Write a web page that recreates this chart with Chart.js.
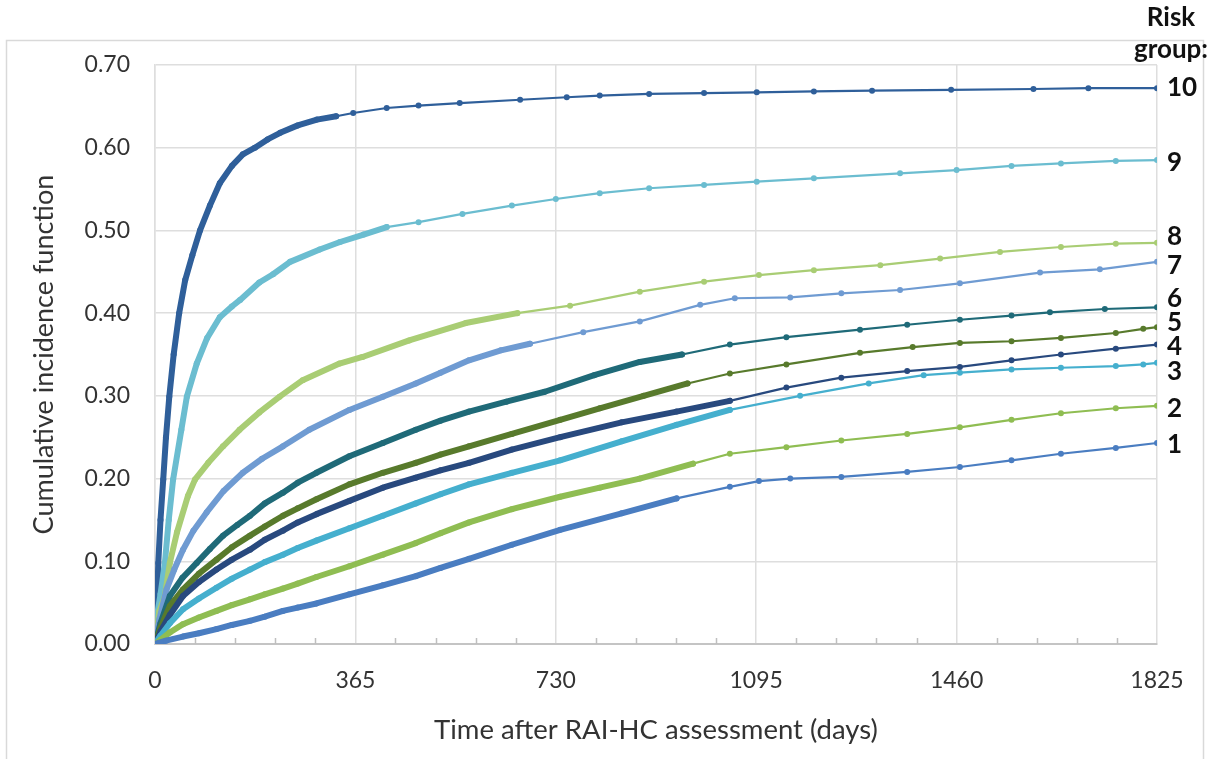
<!DOCTYPE html>
<html>
<head>
<meta charset="utf-8">
<script src="https://cdn.jsdelivr.net/npm/chart.js@4/dist/chart.umd.min.js"></script>
<style>
html,body{margin:0;padding:0;background:#fff;}
canvas{display:block;}
</style>
</head>
<body>
<canvas id="c" width="1229" height="759" style="width:1229px;height:759px"></canvas>
<script>
// ---- data (days, cumulative incidence) ----
const xTickValues = [0, 365, 730, 1095, 1460, 1825];
const yTickValues = [0, 0.1, 0.2, 0.3, 0.4, 0.5, 0.6, 0.7];
const groupNames = ['1','2','3','4','5','6','7','8','9','10'];

const g1Days = [0,20,51,80,112,140,173,200,233,260,294,354,415,475,520,572,650,738,850,950,1047,1100,1157,1250,1370,1466,1560,1650,1750,1825];
const g1Vals = [0,0.004,0.009,0.013,0.018,0.023,0.028,0.033,0.040,0.044,0.049,0.060,0.071,0.082,0.092,0.103,0.120,0.138,0.158,0.176,0.190,0.197,0.200,0.202,0.208,0.214,0.222,0.230,0.237,0.243];

const g2Days = [0,10,27,51,80,112,140,173,200,233,260,294,354,415,475,520,572,650,738,810,883,980,1047,1150,1250,1370,1466,1560,1650,1750,1825];
const g2Vals = [0,0.005,0.014,0.024,0.032,0.040,0.047,0.054,0.060,0.067,0.073,0.081,0.094,0.108,0.122,0.134,0.147,0.163,0.178,0.189,0.200,0.218,0.230,0.238,0.246,0.254,0.262,0.271,0.279,0.285,0.288];

const g3Days = [0,10,27,51,80,112,140,173,200,233,260,294,354,415,475,520,572,650,738,850,950,1047,1175,1300,1400,1466,1560,1650,1750,1800,1825];
const g3Vals = [0,0.010,0.025,0.042,0.055,0.068,0.079,0.090,0.099,0.108,0.116,0.125,0.140,0.155,0.170,0.181,0.193,0.207,0.222,0.245,0.265,0.283,0.300,0.315,0.325,0.328,0.332,0.334,0.336,0.338,0.340];

const g4Days = [0,10,27,51,80,112,140,173,200,233,260,294,354,415,475,520,572,650,738,850,950,1047,1150,1250,1370,1466,1560,1650,1750,1825];
const g4Vals = [0,0.015,0.035,0.058,0.075,0.090,0.102,0.114,0.126,0.137,0.147,0.157,0.173,0.189,0.201,0.210,0.219,0.235,0.250,0.268,0.281,0.294,0.310,0.322,0.330,0.335,0.343,0.350,0.357,0.362];

const g5Days = [0,10,27,51,80,112,140,173,200,233,260,294,354,415,475,520,572,650,738,810,890,970,1047,1150,1284,1380,1466,1560,1650,1750,1800,1825];
const g5Vals = [0,0.020,0.046,0.066,0.085,0.102,0.117,0.131,0.142,0.155,0.164,0.175,0.193,0.207,0.219,0.229,0.239,0.254,0.271,0.285,0.300,0.315,0.327,0.338,0.352,0.359,0.364,0.366,0.370,0.376,0.381,0.383];

const g6Days = [0,10,27,50,76,100,124,150,173,200,233,260,294,354,415,475,520,572,640,710,800,883,960,1047,1150,1284,1370,1466,1560,1630,1730,1825];
const g6Vals = [0,0.025,0.058,0.080,0.098,0.115,0.131,0.144,0.155,0.170,0.183,0.195,0.207,0.227,0.243,0.259,0.270,0.281,0.293,0.305,0.325,0.341,0.350,0.362,0.371,0.380,0.386,0.392,0.397,0.401,0.405,0.407];

const g7Days = [0,8,21,35,51,70,94,125,160,195,233,281,354,415,475,520,572,630,683,780,883,993,1056,1157,1250,1357,1466,1612,1721,1825];
const g7Vals = [0,0.030,0.066,0.090,0.114,0.137,0.159,0.185,0.207,0.224,0.239,0.259,0.283,0.299,0.315,0.328,0.343,0.355,0.363,0.377,0.390,0.410,0.418,0.419,0.424,0.428,0.436,0.449,0.453,0.462];

const g8Days = [0,8,18,27,40,60,73,97,124,154,190,227,269,336,378,463,566,660,756,883,1000,1100,1200,1321,1430,1539,1650,1750,1825];
const g8Vals = [0,0.040,0.058,0.098,0.135,0.179,0.199,0.219,0.239,0.259,0.280,0.299,0.319,0.339,0.347,0.367,0.388,0.400,0.409,0.426,0.438,0.446,0.452,0.458,0.466,0.474,0.480,0.484,0.485];

const g9Days = [0,5,10,18,25,33,48,58,76,95,118,140,155,190,215,246,300,337,380,422,480,560,650,730,810,900,1000,1096,1200,1357,1460,1560,1650,1750,1825];
const g9Vals = [0,0.040,0.060,0.098,0.150,0.199,0.259,0.299,0.339,0.370,0.395,0.408,0.416,0.437,0.447,0.462,0.477,0.486,0.495,0.504,0.510,0.520,0.530,0.538,0.545,0.551,0.555,0.559,0.563,0.569,0.573,0.578,0.581,0.584,0.585];

const g10Days = [0,3,6,10,15,20,26,34,44,55,68,82,100,118,140,160,182,205,228,260,295,330,361,422,480,555,665,750,810,900,1000,1096,1200,1306,1450,1600,1700,1825];
const g10Vals = [0,0.040,0.098,0.150,0.199,0.250,0.299,0.350,0.400,0.440,0.470,0.500,0.530,0.557,0.578,0.592,0.600,0.610,0.618,0.627,0.634,0.638,0.642,0.648,0.651,0.654,0.658,0.661,0.663,0.665,0.666,0.667,0.668,0.669,0.670,0.671,0.672,0.672];

// label anchor values for the right-hand group numbers
const labelAnchors = [0.241, 0.285, 0.329, 0.360, 0.389, 0.418, 0.458, 0.493, 0.582, 0.673];

// ---- styles ----
const colors = ['#4A7DC1','#8FBD52','#45AFCE','#28497E','#587A2C','#1F6A78','#6F9BD2','#A9CD74','#6BBDD0','#2F5F9A'];
const denseUntil = [1000, 1000, 1100, 1100, 1000, 1000, 700, 700, 450, 350];

const allDays = [g1Days,g2Days,g3Days,g4Days,g5Days,g6Days,g7Days,g8Days,g9Days,g10Days];
const allVals = [g1Vals,g2Vals,g3Vals,g4Vals,g5Vals,g6Vals,g7Vals,g8Vals,g9Vals,g10Vals];

const FONT = 'Lato, "Open Sans", "DejaVu Sans", sans-serif';

const datasets = allDays.map((days, i) => {
  const lim = denseUntil[i];
  return {
    label: 'Risk group ' + groupNames[i],
    data: days.map((d, k) => ({x: d, y: allVals[i][k]})),
    borderColor: colors[i],
    backgroundColor: colors[i],
    pointBackgroundColor: colors[i],
    pointBorderWidth: 0,
    pointRadius: 3,
    borderWidth: 2.2,
    borderCapStyle: 'round',
    borderJoinStyle: 'round',
    tension: 0,
    segment: {
      borderWidth: ctx => (ctx.p1.parsed.x <= lim ? 6 : 2.2)
    }
  };
});

const frame = {
  id: 'frame',
  beforeDraw(chart) {
    const c = chart.ctx;
    c.save();
    c.fillStyle = '#fff';
    c.fillRect(0, 0, chart.width, chart.height);
    c.strokeStyle = '#d9d9d9';
    c.lineWidth = 1.5;
    c.beginPath();
    c.moveTo(6.5, 770);
    c.lineTo(6.5, 40.5);
    c.lineTo(1203.5, 40.5);
    c.lineTo(1203.5, 770);
    c.stroke();
    c.restore();
  },
  afterDatasetsDraw(chart) {
    const c = chart.ctx;
    const xs = chart.scales.x, ys = chart.scales.y;
    c.save();
    // minor tick marks on x axis
    c.strokeStyle = '#bfbfbf';
    c.lineWidth = 1.5;
    xs.ticks.forEach(t => {
      if (t.value % 365 !== 0) {
        const px = Math.round(xs.getPixelForValue(t.value)) + 0.5;
        c.beginPath();
        c.moveTo(px, ys.bottom);
        c.lineTo(px, ys.bottom - 6);
        c.stroke();
      }
    });
    // right-side group labels
    c.fillStyle = '#111';
    c.font = 'bold 26px ' + FONT;
    c.textAlign = 'left';
    c.textBaseline = 'middle';
    groupNames.forEach((g, i) => {
      c.fillText(g, xs.right + 10, ys.getPixelForValue(labelAnchors[i]));
    });
    c.textAlign = 'center';
    c.fillText('Risk', 1171, 18);
    c.fillText('group:', 1171, 50);
    c.restore();
  }
};

new Chart(document.getElementById('c'), {
  type: 'line',
  data: { datasets },
  options: {
    responsive: false,
    devicePixelRatio: 1,
    animation: false,
    layout: { padding: { left: 0, right: 72, top: 65, bottom: 0 } },
    plugins: { legend: { display: false }, tooltip: { enabled: false } },
    scales: {
      x: {
        type: 'linear',
        min: 0, max: 1825,
        afterFit: s => { s.height = 115; },
        afterBuildTicks: s => {
          const out = [];
          for (let i = 0; i < xTickValues.length; i++) {
            out.push({ value: xTickValues[i] });
            if (i < xTickValues.length - 1) {
              const step = (xTickValues[i + 1] - xTickValues[i]) / 5;
              for (let k = 1; k < 5; k++) out.push({ value: xTickValues[i] + step * k });
            }
          }
          s.ticks = out;
        },
        ticks: {
          autoSkip: false,
          maxRotation: 0,
          padding: 23,
          color: '#333',
          font: { family: FONT, size: 23 },
          callback: v => (xTickValues.includes(v) ? String(v) : '')
        },
        grid: {
          drawTicks: false,
          lineWidth: 1.5,
          color: ctx => (ctx.tick && xTickValues.includes(ctx.tick.value) ? '#dedede' : 'rgba(0,0,0,0)')
        },
        border: { display: true, color: '#c4c4c4', width: 2 },
        title: {
          display: true,
          text: 'Time after RAI-HC assessment (days)',
          color: '#333',
          font: { family: FONT, size: 27.5 },
          padding: { top: 0, bottom: 12 }
        }
      },
      y: {
        min: 0, max: 0.7,
        afterFit: s => { s.width = 155; },
        afterBuildTicks: s => { s.ticks = yTickValues.map(v => ({ value: v })); },
        ticks: {
          padding: 25,
          color: '#333',
          font: { family: FONT, size: 23 },
          callback: v => Number(v).toFixed(2)
        },
        grid: { drawTicks: false, lineWidth: 1.5, color: '#dedede' },
        border: { display: true, color: '#dedede', width: 1.5 },
        title: {
          display: true,
          text: 'Cumulative incidence function',
          color: '#333',
          font: { family: FONT, size: 27 },
          padding: { top: 28, bottom: 0 }
        }
      }
    }
  },
  plugins: [frame]
});
</script>
</body>
</html>
